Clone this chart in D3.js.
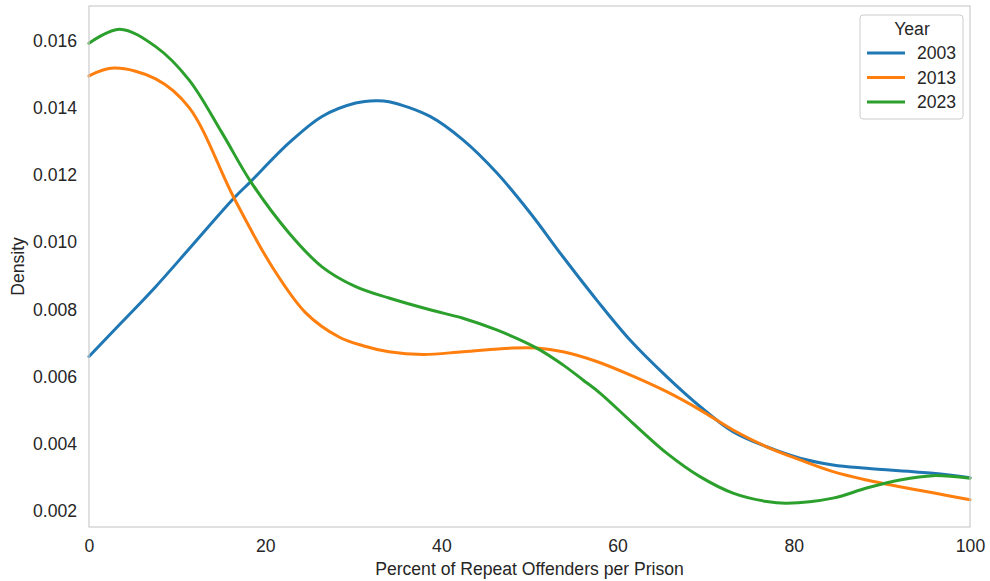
<!DOCTYPE html>
<html>
<head>
<meta charset="utf-8">
<script src="https://cdn.jsdelivr.net/npm/d3@7"></script>
<style>
  html, body { margin: 0; padding: 0; background: #fff; }
  svg { display: block; font-family: "Liberation Sans", Arial, sans-serif; }
</style>
</head>
<body>
<svg id="chart" width="990" height="581"></svg>
<script>
// Kernel density estimates of repeat-offender share, by year
const years = ["2003", "2013", "2023"];
const colors = ["#1f77b4", "#ff7f0e", "#2ca02c"];

const xs2003 = [0, 3.8, 7.57, 11.35, 16.46, 18.35, 22.7, 26.45, 30.27, 32.54, 34.05, 38.71, 42.45, 46.28, 50.06, 53.8, 57.63, 61.41, 65.57, 69.35, 73.1, 76.92, 80.7, 84.45, 88.27, 95.8, 100];
const ys2003 = [0.0066, 0.00764, 0.00868, 0.0098, 0.01132, 0.01181, 0.01296, 0.01375, 0.01415, 0.01422, 0.01419, 0.01375, 0.01305, 0.01207, 0.01088, 0.00957, 0.00828, 0.00709, 0.0060, 0.00511, 0.00436, 0.00391, 0.00357, 0.00337, 0.00327, 0.00312, 0.00299];

const xs2013 = [0, 2.84, 7.57, 11.35, 16.46, 20.77, 24.6, 28.38, 31.1, 34.05, 37.91, 42.45, 48.13, 50.82, 53.8, 57.63, 61.41, 65.57, 69.35, 73.1, 76.92, 80.7, 84.45, 88.27, 92.05, 95.8, 100];
const ys2013 = [0.01496, 0.01519, 0.01487, 0.01402, 0.01132, 0.00928, 0.0079, 0.00718, 0.00692, 0.00674, 0.00666, 0.00674, 0.00685, 0.00685, 0.00674, 0.00645, 0.00605, 0.00555, 0.00501, 0.00441, 0.00391, 0.00352, 0.00317, 0.00292, 0.00272, 0.00254, 0.00233];

const xs2023 = [0, 3.48, 7.57, 11.35, 15.1, 18.35, 22.7, 26.45, 30.27, 34.05, 38.71, 42.45, 46.28, 50.82, 53.8, 56.07, 58.0, 61.75, 65.57, 69.35, 73.1, 76.92, 79.19, 84.45, 88.27, 92.05, 95.8, 100];
const ys2023 = [0.01593, 0.01635, 0.01583, 0.01484, 0.01326, 0.01181, 0.01028, 0.00927, 0.00868, 0.00834, 0.00799, 0.00774, 0.00739, 0.00685, 0.00635, 0.0059, 0.00551, 0.00461, 0.00372, 0.00302, 0.00253, 0.00228, 0.00223, 0.00238, 0.00268, 0.00292, 0.00305, 0.00297];

const xTicks = [0, 20, 40, 60, 80, 100];
const yTicks = [0.002, 0.004, 0.006, 0.008, 0.010, 0.012, 0.014, 0.016];

const seriesX = [xs2003, xs2013, xs2023];
const seriesY = [ys2003, ys2013, ys2023];

const margin = { left: 89, right: 20, top: 6, bottom: 54 };
const W = 990, H = 581;
const svg = d3.select("#chart");
const textColor = "#262626";
const fontSize = "17.6px";

const x = d3.scaleLinear().domain([0, 100]).range([margin.left, W - margin.right]);
const y = d3.scaleLinear().domain([0.00152, 0.01704]).range([H - margin.bottom, margin.top]);

// Tick labels (no tick marks, no grid)
const xAxis = svg.append("g")
  .attr("transform", `translate(0,${H - margin.bottom})`)
  .call(d3.axisBottom(x).tickValues(xTicks).tickFormat(d3.format("d")).tickSize(0).tickPadding(13));
const yAxis = svg.append("g")
  .attr("transform", `translate(${margin.left},0)`)
  .call(d3.axisLeft(y).tickValues(yTicks).tickFormat(d3.format(".3f")).tickSize(0).tickPadding(12));
[xAxis, yAxis].forEach(g => {
  g.select(".domain").remove();
  g.selectAll("text").attr("fill", textColor).style("font-size", fontSize);
});

// Density curves
const line = d3.line().curve(d3.curveCatmullRom.alpha(0.5)).x(d => x(d[0])).y(d => y(d[1]));
years.forEach((yr, i) => {
  const pts = seriesX[i].map((v, j) => [v, seriesY[i][j]]);
  svg.append("path")
    .datum(pts)
    .attr("fill", "none")
    .attr("stroke", colors[i])
    .attr("stroke-width", 3)
    .attr("stroke-linejoin", "round")
    .attr("stroke-linecap", "round")
    .attr("d", line);
});

// Frame around the plot area
svg.append("rect")
  .attr("x", margin.left).attr("y", margin.top)
  .attr("width", W - margin.right - margin.left)
  .attr("height", H - margin.bottom - margin.top)
  .attr("fill", "none").attr("stroke", "#cccccc").attr("stroke-width", 1.2);

// Axis titles
svg.append("text")
  .attr("x", (margin.left + W - margin.right) / 2).attr("y", 575)
  .attr("text-anchor", "middle").attr("fill", textColor).style("font-size", fontSize)
  .text("Percent of Repeat Offenders per Prison");
svg.append("text")
  .attr("transform", `translate(24,${(margin.top + H - margin.bottom) / 2}) rotate(-90)`)
  .attr("text-anchor", "middle").attr("fill", textColor).style("font-size", fontSize)
  .text("Density");

// Legend
const lg = svg.append("g").attr("transform", "translate(860,15)");
lg.append("rect")
  .attr("width", 103).attr("height", 104).attr("rx", 3)
  .attr("fill", "#fff").attr("fill-opacity", 0.8)
  .attr("stroke", "#cccccc").attr("stroke-width", 1);
lg.append("text")
  .attr("x", 52).attr("y", 20)
  .attr("text-anchor", "middle").attr("fill", textColor).style("font-size", fontSize)
  .text("Year");
years.forEach((yr, i) => {
  const cy = 38 + i * 24.5;
  lg.append("line")
    .attr("x1", 7).attr("x2", 45).attr("y1", cy).attr("y2", cy)
    .attr("stroke", colors[i]).attr("stroke-width", 3);
  lg.append("text")
    .attr("x", 57).attr("y", cy + 6)
    .attr("fill", textColor).style("font-size", fontSize)
    .text(yr);
});
</script>
</body>
</html>
